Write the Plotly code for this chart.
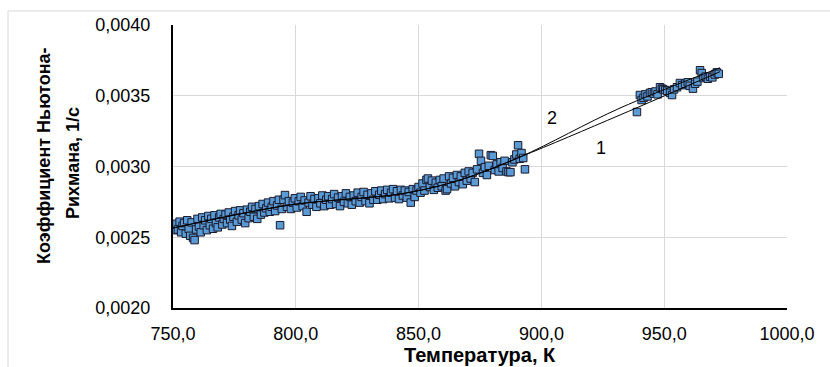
import plotly.graph_objects as go

# Measured points: temperature (K) and Newton-Richmann coefficient (1/s)
temp_k = [
    750.2, 750.8, 751.4, 752.0, 752.7, 753.3, 753.9, 754.5, 755.2, 755.8,
    756.4, 757.0, 757.6, 758.2, 758.8, 759.4, 760.0, 760.6, 761.3, 761.9,
    762.5, 763.1, 763.8, 764.4, 765.0, 765.6, 766.3, 766.9, 767.5, 768.2,
    768.8, 769.4, 770.1, 770.7, 771.4, 772.0, 772.7, 773.3, 774.0, 774.6,
    775.3, 776.0, 776.7, 777.3, 778.0, 778.7, 779.4, 780.1, 780.8, 781.5,
    782.2, 782.9, 783.6, 784.3, 785.0, 785.8, 786.5, 787.2, 788.0, 788.7,
    789.4, 790.2, 790.9, 791.6, 792.4, 793.1, 793.6, 794.3, 795.0, 795.6,
    796.4, 797.2, 798.0, 798.8, 799.6, 800.4, 801.2, 802.0, 802.8, 803.6,
    804.4, 805.2, 806.0, 806.8, 807.6, 808.4, 809.2, 810.0, 810.8, 811.6,
    812.4, 813.2, 814.0, 814.8, 815.6, 816.4, 817.2, 818.0, 818.8, 819.6,
    820.4, 821.2, 822.0, 822.8, 823.6, 824.4, 825.2, 826.0, 826.8, 827.6,
    828.4, 829.2, 830.0, 830.8, 831.6, 832.4, 833.2, 834.0, 834.8, 835.6,
    836.4, 837.2, 838.0, 838.8, 839.6, 840.4, 841.2, 842.0, 842.8, 843.6,
    844.4, 845.2, 846.0, 846.8, 847.6, 848.4, 849.2, 850.0, 850.8, 851.6,
    852.4, 853.2, 853.8, 854.6, 855.4, 856.2, 857.0, 857.8, 858.6, 859.4,
    860.2, 861.0, 861.6, 862.4, 863.2, 864.0, 864.8, 865.6, 866.4, 867.2,
    868.0, 868.8, 869.6, 870.4, 871.2, 872.0, 872.9, 873.8, 874.6, 875.4,
    876.2, 877.0, 877.8, 878.6, 879.4, 880.2, 881.0, 881.8, 882.6, 883.4,
    884.2, 885.0, 885.8, 886.6, 887.4, 888.2, 889.0, 889.8, 890.5, 891.2,
    891.9, 892.6, 893.3,
    938.9, 940.1, 940.8, 941.6, 942.4, 943.2, 944.2, 945.0, 945.8, 946.5,
    947.3, 948.3, 949.1, 949.6, 950.4, 951.2, 952.4, 953.2, 954.0, 955.2,
    956.4, 957.4, 958.5, 959.6, 960.4, 961.7, 962.6, 963.5, 964.6, 965.3,
    966.0, 966.9, 967.8, 968.7, 969.6, 970.6, 971.4, 972.2,
]
coef = [
    0.002575, 0.002550, 0.002595, 0.002555, 0.002610, 0.002535, 0.002580, 0.002600, 0.002525, 0.002620,
    0.002560, 0.002510, 0.002605, 0.002495, 0.002480, 0.002555, 0.002630, 0.002575, 0.002535, 0.002640,
    0.002585, 0.002620, 0.002550, 0.002650, 0.002585, 0.002630, 0.002560, 0.002655, 0.002600, 0.002570,
    0.002640, 0.002665, 0.002590, 0.002630, 0.002660, 0.002600, 0.002675, 0.002625, 0.002580, 0.002645,
    0.002685, 0.002610, 0.002655, 0.002690, 0.002625, 0.002670, 0.002600, 0.002695, 0.002635, 0.002680,
    0.002715, 0.002645, 0.002700, 0.002630, 0.002720, 0.002660, 0.002735, 0.002675, 0.002705, 0.002745,
    0.002680, 0.002715, 0.002755, 0.002685, 0.002725, 0.002765, 0.002585, 0.002700, 0.002765, 0.002798,
    0.002715, 0.002755, 0.002700, 0.002745, 0.002775, 0.002710, 0.002755, 0.002785, 0.002720, 0.002760,
    0.002680, 0.002745, 0.002790, 0.002730, 0.002770, 0.002715, 0.002775, 0.002740, 0.002795, 0.002720,
    0.002765, 0.002790, 0.002730, 0.002770, 0.002805, 0.002735, 0.002780, 0.002720, 0.002790, 0.002750,
    0.002810, 0.002740, 0.002785, 0.002730, 0.002795, 0.002755, 0.002815, 0.002745, 0.002785, 0.002820,
    0.002755, 0.002800, 0.002740, 0.002810, 0.002765, 0.002825, 0.002765, 0.002800, 0.002830, 0.002770,
    0.002805, 0.002835, 0.002775, 0.002815, 0.002840, 0.002780, 0.002825, 0.002770, 0.002835, 0.002795,
    0.002830, 0.002780, 0.002820, 0.002745, 0.002840, 0.002785, 0.002830, 0.002855, 0.002815, 0.002880,
    0.002830, 0.002905, 0.002915, 0.002855, 0.002900, 0.002835, 0.002885, 0.002850, 0.002905, 0.002860,
    0.002915, 0.002830, 0.002840, 0.002930, 0.002880, 0.002920, 0.002860, 0.002940, 0.002890, 0.002930,
    0.002875, 0.002955, 0.002900, 0.002965, 0.002915, 0.002955, 0.002890, 0.002980, 0.003090, 0.003040,
    0.002955, 0.002995, 0.002940, 0.003005, 0.003080, 0.003075, 0.002975, 0.003015, 0.002965, 0.003030,
    0.002990, 0.003040, 0.002965, 0.002960, 0.002960, 0.003030, 0.003050, 0.003085, 0.003150, 0.003055,
    0.003095, 0.003060, 0.002980,
    0.003385, 0.003505, 0.003470, 0.003485, 0.003510, 0.003495, 0.003520, 0.003525, 0.003515, 0.003530,
    0.003510, 0.003560, 0.003550, 0.003545, 0.003540, 0.003535, 0.003520, 0.003505, 0.003545, 0.003560,
    0.003590, 0.003575, 0.003585, 0.003595, 0.003570, 0.003550, 0.003585, 0.003600, 0.003680, 0.003660,
    0.003625, 0.003635, 0.003620, 0.003635, 0.003630, 0.003650, 0.003665, 0.003655,
]

# Approximating curves 1 and 2
trend_t = [750.0, 797.6, 843.6, 866.9, 891.3, 932.0, 972.7]
trend_1 = [0.002565, 0.002728, 0.002809, 0.002905, 0.003067, 0.003364, 0.003670]
trend_2 = [0.002565, 0.002728, 0.002809, 0.002905, 0.003067, 0.003413, 0.003698]

curve_labels = ["1", "2"]
label_t = [924.3, 904.3]
label_k = [0.003131, 0.003343]

x_ticks = [750, 800, 850, 900, 950, 1000]
y_ticks = [0.0020, 0.0025, 0.0030, 0.0035, 0.0040]

FONT = "Liberation Sans"
GRID = "#d9d9d9"

fig = go.Figure()
fig.add_trace(go.Scatter(
    x=temp_k, y=coef, mode="markers",
    marker=dict(symbol="square", size=7.5, color="#5b9bd5",
                line=dict(color="#1a1a2e", width=1)),
    showlegend=False, hoverinfo="skip",
))
fig.add_trace(go.Scatter(
    x=trend_t, y=trend_1, mode="lines", line=dict(color="black", width=1, shape="spline"),
    showlegend=False, hoverinfo="skip",
))
fig.add_trace(go.Scatter(
    x=trend_t, y=trend_2, mode="lines", line=dict(color="black", width=1, shape="spline"),
    showlegend=False, hoverinfo="skip",
))

for lab, tx, ky in zip(curve_labels, label_t, label_k):
    fig.add_annotation(x=tx, y=ky, text=lab, showarrow=False,
                       font=dict(family=FONT, size=18, color="black"),
                       xanchor="center", yanchor="middle")

# Axis titles
fig.add_annotation(xref="paper", yref="paper", x=0.5, y=-0.165,
                   text="<b>Температура, К</b>", showarrow=False,
                   font=dict(family=FONT, size=20, color="black"),
                   xanchor="center", yanchor="middle")
fig.add_annotation(xref="paper", yref="paper", x=-0.2101, y=0.5406,
                   text="<b>Коэффициент Ньютона-</b>", showarrow=False, textangle=-90,
                   font=dict(family=FONT, size=18, color="black"),
                   xanchor="center", yanchor="middle")
fig.add_annotation(xref="paper", yref="paper", x=-0.1629, y=0.5124,
                   text="<b>Рихмана, 1/с</b>", showarrow=False, textangle=-90,
                   font=dict(family=FONT, size=18, color="black"),
                   xanchor="center", yanchor="middle")

# Chart-area border
fig.add_shape(type="rect", xref="paper", yref="paper",
              x0=-0.2687, y0=-2, x1=3, y1=1.0495,
              line=dict(color=GRID, width=1), fillcolor="rgba(0,0,0,0)", layer="below")

fig.update_layout(
    width=830, height=367,
    margin=dict(l=173, r=43, t=25, b=59),
    paper_bgcolor="white", plot_bgcolor="white",
    separators=", ",
    font=dict(family=FONT, size=18, color="black"),
)
fig.update_xaxes(
    range=[750, 1000], tickvals=x_ticks, tickformat=".1f",
    showgrid=True, gridcolor=GRID, gridwidth=1,
    showline=True, linecolor="black", linewidth=2,
    zeroline=False, ticks="", ticklabelstandoff=8,
    tickfont=dict(family=FONT, size=18, color="black"),
)
fig.update_yaxes(
    range=[0.0020, 0.0040], tickvals=y_ticks, tickformat=".4f",
    showgrid=True, gridcolor=GRID, gridwidth=1,
    showline=True, linecolor="black", linewidth=2,
    zeroline=False, ticks="", ticklabelstandoff=17,
    tickfont=dict(family=FONT, size=18, color="black"),
)

fig.write_html("out.html")
